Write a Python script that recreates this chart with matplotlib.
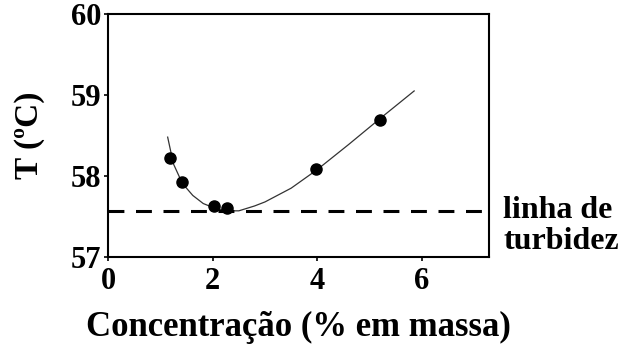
import matplotlib.pyplot as plt

# measured points
conc = [1.19, 1.42, 2.02, 2.28, 3.97, 5.20]
temp = [58.22, 57.92, 57.63, 57.61, 58.09, 58.69]

# fitted curve
curve_x = [1.14, 1.25, 1.42, 1.62, 1.82, 2.05, 2.3, 2.5, 2.8, 3.0, 3.5, 4.0, 4.6, 5.2, 5.85]
curve_y = [58.48, 58.15, 57.91, 57.76, 57.66, 57.60, 57.57, 57.57, 57.63, 57.68, 57.85, 58.08, 58.39, 58.71, 59.05]

turbidez = 57.57
x_ticks = [0, 2, 4, 6]
y_ticks = [57, 58, 59, 60]

plt.rcParams['font.family'] = ['Liberation Serif', 'DejaVu Serif']
plt.rcParams['font.weight'] = 'bold'

fig = plt.figure(figsize=(6.18, 3.47), dpi=100)
ax = fig.add_axes([108 / 618, 1 - 257 / 347, (489 - 108) / 618, (257 - 14) / 347])

#curve + points
ax.plot(curve_x, curve_y, color='#333333', lw=0.9)
ax.plot(conc, temp, 'o', color='black', ms=8)

#dashed turbidity line
ax.axhline(turbidez, color='black', lw=2.2, dashes=(5.2, 3.8))

ax.set_xlim(0, 7.28)
ax.set_ylim(57, 60)
ax.set_xticks(x_ticks)
ax.set_yticks(y_ticks)
ax.tick_params(direction='out', length=3, width=1.2, labelsize=22, pad=2)
ax.tick_params(axis='x', pad=4)
for s in ax.spines.values():
    s.set_linewidth(1.5)

ax.set_xlabel('Concentração (% em massa)', fontsize=25, fontweight='bold', labelpad=11)
ax.set_ylabel('T (ºC)', fontsize=24, fontweight='bold', labelpad=18)

fig.text(503 / 618, 1 - 226 / 347, 'linha de\nturbidez', fontsize=23, fontweight='bold',
         va='center', ha='left', linespacing=1.05)

fig.savefig('out.png', dpi=100)
